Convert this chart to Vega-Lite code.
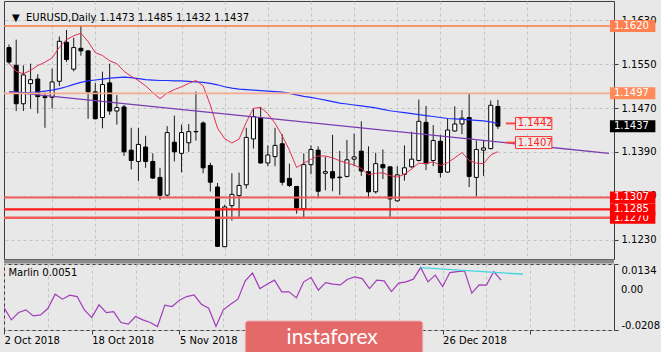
{
  "$schema": "https://vega.github.io/schema/vega-lite/v6.json",
  "background": "#e8e8e8",
  "padding": {"left": 3, "top": 0, "right": 0, "bottom": 0},
  "spacing": 5,
  "bounds": "flush",
  "config": {
    "view": {"stroke": "#3c3c3c", "strokeWidth": 1},
    "axis": {"labelFont": "DejaVu Sans", "labelFontSize": 10, "labelColor": "#000000", "gridColor": "#c4c4c4", "gridDash": [3, 3], "gridWidth": 1, "domain": false, "tickColor": "#3c3c3c"},
    "text": {"font": "DejaVu Sans"}
  },
  "datasets": {
    "candles": [
      {"i":0,"o":1.15804,"h":1.15861,"l":1.1551,"c":1.1554},
      {"i":1,"o":1.15481,"h":1.15949,"l":1.14646,"c":1.14779},
      {"i":2,"o":1.14779,"h":1.15481,"l":1.14646,"c":1.15305},
      {"i":3,"o":1.15147,"h":1.15511,"l":1.14691,"c":1.15218},
      {"i":4,"o":1.1523,"h":1.15318,"l":1.14603,"c":1.14909},
      {"i":5,"o":1.14909,"h":1.14984,"l":1.1434,"c":1.14891},
      {"i":6,"o":1.14896,"h":1.15423,"l":1.14691,"c":1.15177},
      {"i":7,"o":1.15189,"h":1.16007,"l":1.15102,"c":1.15919},
      {"i":8,"o":1.15902,"h":1.16125,"l":1.1554,"c":1.15586},
      {"i":9,"o":1.1541,"h":1.15984,"l":1.1537,"c":1.15804},
      {"i":10,"o":1.15791,"h":1.162,"l":1.15656,"c":1.15744},
      {"i":11,"o":1.15744,"h":1.15756,"l":1.14505,"c":1.14996},
      {"i":12,"o":1.14996,"h":1.1516,"l":1.14493,"c":1.14505},
      {"i":13,"o":1.14528,"h":1.15365,"l":1.1433,"c":1.1513},
      {"i":14,"o":1.1516,"h":1.15511,"l":1.14575,"c":1.14646},
      {"i":15,"o":1.14646,"h":1.14937,"l":1.144,"c":1.14709},
      {"i":16,"o":1.14721,"h":1.14756,"l":1.13826,"c":1.13902},
      {"i":17,"o":1.13932,"h":1.1434,"l":1.13581,"c":1.13744},
      {"i":18,"o":1.13726,"h":1.1434,"l":1.1337,"c":1.14037},
      {"i":19,"o":1.13989,"h":1.14195,"l":1.1361,"c":1.13726},
      {"i":20,"o":1.13726,"h":1.13874,"l":1.13405,"c":1.13423},
      {"i":21,"o":1.13435,"h":1.1361,"l":1.13025,"c":1.13107},
      {"i":22,"o":1.13112,"h":1.1437,"l":1.13084,"c":1.14253},
      {"i":23,"o":1.14077,"h":1.14563,"l":1.13726,"c":1.13902},
      {"i":24,"o":1.13874,"h":1.144,"l":1.13528,"c":1.14253},
      {"i":25,"o":1.14067,"h":1.1441,"l":1.13902,"c":1.1427},
      {"i":26,"o":1.14274,"h":1.15002,"l":1.14107,"c":1.14267},
      {"i":27,"o":1.14428,"h":1.14458,"l":1.1351,"c":1.1361},
      {"i":28,"o":1.13651,"h":1.13703,"l":1.13177,"c":1.13347},
      {"i":29,"o":1.1326,"h":1.13335,"l":1.12165,"c":1.12177},
      {"i":30,"o":1.1217,"h":1.12937,"l":1.12165,"c":1.12896},
      {"i":31,"o":1.12919,"h":1.1351,"l":1.12646,"c":1.13125},
      {"i":32,"o":1.13102,"h":1.13523,"l":1.12716,"c":1.13288},
      {"i":33,"o":1.133,"h":1.1434,"l":1.1323,"c":1.14165},
      {"i":34,"o":1.14137,"h":1.14691,"l":1.13961,"c":1.14546},
      {"i":35,"o":1.14528,"h":1.14721,"l":1.13686,"c":1.13698},
      {"i":36,"o":1.13698,"h":1.14019,"l":1.13639,"c":1.13844},
      {"i":37,"o":1.13814,"h":1.1434,"l":1.13639,"c":1.14019},
      {"i":38,"o":1.14049,"h":1.14225,"l":1.13288,"c":1.13347},
      {"i":39,"o":1.13418,"h":1.13686,"l":1.1326,"c":1.13288},
      {"i":40,"o":1.1327,"h":1.1327,"l":1.12774,"c":1.12879},
      {"i":41,"o":1.12861,"h":1.13874,"l":1.12674,"c":1.13668},
      {"i":42,"o":1.13668,"h":1.14019,"l":1.13493,"c":1.13944},
      {"i":43,"o":1.13932,"h":1.14002,"l":1.13054,"c":1.13182},
      {"i":44,"o":1.1351,"h":1.13814,"l":1.132,"c":1.1354},
      {"i":45,"o":1.1354,"h":1.14212,"l":1.13182,"c":1.13423},
      {"i":46,"o":1.1344,"h":1.13919,"l":1.13112,"c":1.1343},
      {"i":47,"o":1.13453,"h":1.14119,"l":1.13435,"c":1.13756},
      {"i":48,"o":1.13768,"h":1.14235,"l":1.13639,"c":1.13809},
      {"i":49,"o":1.13914,"h":1.14458,"l":1.13463,"c":1.13551},
      {"i":50,"o":1.1354,"h":1.14002,"l":1.13054,"c":1.13172},
      {"i":51,"o":1.13172,"h":1.13884,"l":1.13142,"c":1.13686},
      {"i":52,"o":1.13668,"h":1.13944,"l":1.13405,"c":1.1361},
      {"i":53,"o":1.13628,"h":1.13633,"l":1.12716,"c":1.13042},
      {"i":54,"o":1.13007,"h":1.13639,"l":1.12996,"c":1.13481},
      {"i":55,"o":1.13493,"h":1.14019,"l":1.13375,"c":1.1361},
      {"i":56,"o":1.13628,"h":1.1427,"l":1.1361,"c":1.13768},
      {"i":57,"o":1.13744,"h":1.14856,"l":1.13726,"c":1.14458},
      {"i":58,"o":1.1444,"h":1.14739,"l":1.13568,"c":1.13686},
      {"i":59,"o":1.13744,"h":1.14388,"l":1.13639,"c":1.14107},
      {"i":60,"o":1.14095,"h":1.14212,"l":1.13435,"c":1.13523},
      {"i":61,"o":1.13533,"h":1.14505,"l":1.13523,"c":1.143},
      {"i":62,"o":1.14282,"h":1.14733,"l":1.1427,"c":1.1441},
      {"i":63,"o":1.1441,"h":1.14663,"l":1.14225,"c":1.14516},
      {"i":64,"o":1.14528,"h":1.14967,"l":1.1326,"c":1.13453},
      {"i":65,"o":1.13435,"h":1.14107,"l":1.13084,"c":1.13944},
      {"i":66,"o":1.13932,"h":1.14119,"l":1.13463,"c":1.13972},
      {"i":67,"o":1.13961,"h":1.14839,"l":1.13944,"c":1.14751},
      {"i":68,"o":1.1473,"h":1.1485,"l":1.1432,"c":1.1437}
    ],
    "ma": [
      {"i":0,"b":1.14996,"r":1.15519},{"i":1,"b":1.14993,"r":1.1537},{"i":2,"b":1.14984,"r":1.15326},{"i":3,"b":1.14984,"r":1.15388},
      {"i":4,"b":1.14993,"r":1.15475},{"i":5,"b":1.15011,"r":1.15537},{"i":6,"b":1.15028,"r":1.15616},{"i":7,"b":1.15054,"r":1.15809},
      {"i":8,"b":1.15089,"r":1.15949},{"i":9,"b":1.15133,"r":1.16019},{"i":10,"b":1.15168,"r":1.16067},{"i":11,"b":1.15195,"r":1.15914},
      {"i":12,"b":1.15212,"r":1.15712},{"i":13,"b":1.1523,"r":1.1566},{"i":14,"b":1.15247,"r":1.15563},{"i":15,"b":1.15256,"r":1.15511},
      {"i":16,"b":1.15265,"r":1.1537},{"i":17,"b":1.15256,"r":1.15282},{"i":18,"b":1.15239,"r":1.15203},{"i":19,"b":1.15221,"r":1.15107},
      {"i":20,"b":1.15212,"r":1.14984},{"i":21,"b":1.15203,"r":1.1487},{"i":22,"b":1.15203,"r":1.14975},{"i":23,"b":1.15195,"r":1.15037},
      {"i":24,"b":1.15195,"r":1.15089},{"i":25,"b":1.15186,"r":1.15151},{"i":26,"b":1.15177,"r":1.15203},{"i":27,"b":1.15168,"r":1.15107},
      {"i":28,"b":1.15151,"r":1.14756},{"i":29,"b":1.15125,"r":1.14335},{"i":30,"b":1.15089,"r":1.14142},{"i":31,"b":1.15063,"r":1.14063},
      {"i":32,"b":1.15046,"r":1.14133},{"i":33,"b":1.15037,"r":1.1444},{"i":34,"b":1.15028,"r":1.14695},{"i":35,"b":1.15019,"r":1.14712},
      {"i":36,"b":1.15011,"r":1.14598},{"i":37,"b":1.15002,"r":1.14423},{"i":38,"b":1.14993,"r":1.14195},{"i":39,"b":1.14967,"r":1.13932},
      {"i":40,"b":1.1494,"r":1.13616},{"i":41,"b":1.14914,"r":1.13695},{"i":42,"b":1.14896,"r":1.13765},{"i":43,"b":1.1487,"r":1.13826},
      {"i":44,"b":1.14844,"r":1.13826},{"i":45,"b":1.14818,"r":1.13791},{"i":46,"b":1.14791,"r":1.13739},{"i":47,"b":1.14774,"r":1.13698},
      {"i":48,"b":1.14756,"r":1.1366},{"i":49,"b":1.14739,"r":1.13598},{"i":50,"b":1.14721,"r":1.13484},{"i":51,"b":1.14703,"r":1.1351},
      {"i":52,"b":1.14677,"r":1.13519},{"i":53,"b":1.14651,"r":1.13467},{"i":54,"b":1.14633,"r":1.1344},{"i":55,"b":1.14616,"r":1.13493},
      {"i":56,"b":1.14598,"r":1.13589},{"i":57,"b":1.14581,"r":1.13695},{"i":58,"b":1.14563,"r":1.13686},{"i":59,"b":1.14546,"r":1.13721},
      {"i":60,"b":1.14528,"r":1.13651},{"i":61,"b":1.1451,"r":1.13703},{"i":62,"b":1.14502,"r":1.13791},{"i":63,"b":1.14493,"r":1.13888},
      {"i":64,"b":1.14484,"r":1.13744},{"i":65,"b":1.14475,"r":1.13695},{"i":66,"b":1.14467,"r":1.13686},{"i":67,"b":1.14449,"r":1.13844},
      {"i":68,"b":1.14414,"r":1.13905}
    ],
    "marlin": [
      {"i":0,"v":-0.00917},{"i":1,"v":-0.01554},{"i":2,"v":-0.01176},{"i":3,"v":-0.01036},{"i":4,"v":-0.01347},{"i":5,"v":-0.01295},
      {"i":6,"v":-0.00969},{"i":7,"v":-0.00223},{"i":8,"v":-0.00482},{"i":9,"v":-0.00275},{"i":10,"v":-0.00347},{"i":11,"v":-0.01036},
      {"i":12,"v":-0.01435},{"i":13,"v":-0.00777},{"i":14,"v":-0.01176},{"i":15,"v":-0.01124},{"i":16,"v":-0.01694},{"i":17,"v":-0.01777},
      {"i":18,"v":-0.01383},{"i":19,"v":-0.01554},{"i":20,"v":-0.01694},{"i":21,"v":-0.01902},{"i":22,"v":-0.00793},{"i":23,"v":-0.00865},
      {"i":24,"v":-0.00534},{"i":25,"v":-0.00347},{"i":26,"v":-0.00259},{"i":27,"v":-0.00741},{"i":28,"v":-0.00948},{"i":29,"v":-0.01902},
      {"i":30,"v":-0.01036},{"i":31,"v":-0.00741},{"i":32,"v":-0.00482},{"i":33,"v":0.00466},{"i":34,"v":0.00865},{"i":35,"v":0.00067},
      {"i":36,"v":0.00295},{"i":37,"v":0.00503},{"i":38,"v":-0.00104},{"i":39,"v":-0.00104},{"i":40,"v":-0.00415},{"i":41,"v":0.00415},
      {"i":42,"v":0.00637},{"i":43,"v":-0.00016},{"i":44,"v":0.00378},{"i":45,"v":0.00295},{"i":46,"v":0.00259},{"i":47,"v":0.00554},
      {"i":48,"v":0.00674},{"i":49,"v":0.00585},{"i":50,"v":0.00067},{"i":51,"v":0.00503},{"i":52,"v":0.00466},{"i":53,"v":-0.00088},
      {"i":54,"v":0.00347},{"i":55,"v":0.00415},{"i":56,"v":0.00554},{"i":57,"v":0.01155},{"i":58,"v":0.00415},{"i":59,"v":0.00762},
      {"i":60,"v":0.00171},{"i":61,"v":0.00896},{"i":62,"v":0.00948},{"i":63,"v":0.00984},{"i":64,"v":-0.00171},{"i":65,"v":0.00259},
      {"i":66,"v":0.00244},{"i":67,"v":0.00948},{"i":68,"v":0.0051}
    ],
    "trend": [{"i":0,"p":1.14997},{"i":83.45,"p":1.13874}],
    "cyan": [{"i":57,"v":0.01155},{"i":71,"v":0.0081}],
    "levels": [
      {"p":1.162,"kind":"o1","label":"1.1620"},
      {"p":1.1497,"kind":"o2","label":"1.1497"},
      {"p":1.127,"kind":"r3","label":"1.1270"},
      {"p":1.1285,"kind":"r2","label":"1.1285"},
      {"p":1.1307,"kind":"r1","label":"1.1307"}
    ],
    "tl": [{"p":1.1442,"label":"1.1442"},{"p":1.1407,"label":"1.1407"}],
    "price": [{"p":1.1437,"label":"1.1437"}]
  },
  "vconcat": [
    {
      "width": 610,
      "height": 258,
      "layer": [
        {
          "data": {"name": "candles"},
          "mark": {"type": "rule", "color": "#1a1a1a", "strokeWidth": 1, "clip": true},
          "encoding": {
            "x": {"field": "i", "type": "quantitative", "title": null,
                  "scale": {"domain": [0, 83.45], "nice": false, "zero": false},
                  "axis": {"values": [6,12,18,24,30,36,42,48,54,60,66,72,78], "labels": false, "ticks": false, "domain": false, "grid": true}},
            "y": {"field": "l", "type": "quantitative", "title": null,
                  "scale": {"domain": [1.12037, 1.16563], "nice": false, "zero": false},
                  "axis": {"orient": "right", "values": [1.123, 1.131, 1.139, 1.147, 1.155, 1.163], "format": ".4f", "tickSize": 4, "labelPadding": 3, "labelOverlap": false, "grid": true}},
            "y2": {"field": "h"}
          }
        },
        {
          "data": {"name": "candles"},
          "mark": {"type": "bar", "width": 4, "orient": "vertical", "stroke": "#000000", "strokeWidth": 1, "clip": true},
          "encoding": {
            "x": {"field": "i", "type": "quantitative", "title": null},
            "y": {"field": "o", "type": "quantitative", "title": null},
            "y2": {"field": "c"},
            "fill": {"condition": {"test": "datum.c >= datum.o", "value": "#ffffff"}, "value": "#000000"}
          }
        },
        {
          "data": {"name": "ma"},
          "mark": {"type": "line", "color": "#1f30ff", "strokeWidth": 1.2, "clip": true},
          "encoding": {
            "x": {"field": "i", "type": "quantitative", "title": null},
            "y": {"field": "b", "type": "quantitative", "title": null}
          }
        },
        {
          "data": {"name": "ma"},
          "mark": {"type": "line", "color": "#e2304f", "strokeWidth": 1, "clip": true},
          "encoding": {
            "x": {"field": "i", "type": "quantitative", "title": null},
            "y": {"field": "r", "type": "quantitative", "title": null}
          }
        },
        {
          "data": {"name": "trend"},
          "mark": {"type": "line", "color": "#7a3cb0", "strokeWidth": 1.3, "clip": true},
          "encoding": {
            "x": {"field": "i", "type": "quantitative", "title": null},
            "y": {"field": "p", "type": "quantitative", "title": null}
          }
        },
        {
          "data": {"name": "levels"},
          "mark": {"type": "rule", "clip": true},
          "encoding": {
            "y": {"field": "p", "type": "quantitative", "title": null},
            "stroke": {"field": "kind", "type": "nominal", "legend": null,
                       "scale": {"domain": ["o1","o2","r1","r2","r3"], "range": ["#ff7a45","#f6aa90","#f25c5c","#ff1a1a","#f25c5c"]}},
            "strokeWidth": {"field": "kind", "type": "nominal", "legend": null,
                       "scale": {"domain": ["o1","o2","r1","r2","r3"], "range": [1.5, 2.5, 2, 1, 2]}}
          }
        },
        {
          "data": {"name": "tl"},
          "mark": {"type": "rule", "color": "#ff4848", "strokeWidth": 2, "clip": false},
          "encoding": {
            "x": {"datum": 69.1},
            "x2": {"datum": 70.45},
            "y": {"field": "p", "type": "quantitative", "title": null}
          }
        },
        {
          "data": {"name": "tl"},
          "mark": {"type": "bar", "height": 12, "orient": "horizontal", "fill": "#ececec", "stroke": "#ff3030", "strokeWidth": 1, "clip": false},
          "encoding": {
            "x": {"datum": 70.45},
            "x2": {"datum": 75.5},
            "y": {"field": "p", "type": "quantitative", "title": null}
          }
        },
        {
          "data": {"name": "tl"},
          "mark": {"type": "text", "align": "left", "baseline": "middle", "fontSize": 10, "color": "#ff2020", "clip": false},
          "encoding": {
            "x": {"datum": 70.75},
            "y": {"field": "p", "type": "quantitative", "title": null},
            "text": {"field": "label"}
          }
        },
        {
          "data": {"name": "levels"},
          "transform": [{"filter": "datum.kind == 'r3'"}],
          "mark": {"type": "bar", "height": 12, "orient": "horizontal", "clip": false},
          "encoding": {
            "x": {"datum": 83.58},
            "x2": {"datum": 89.9},
            "y": {"field": "p", "type": "quantitative", "title": null},
            "fill": {"field": "kind", "type": "nominal", "legend": null,
                     "scale": {"domain": ["o1","o2","r1","r2","r3"], "range": ["#ff8050","#ff8a5a","#ff0000","#ff0000","#ff0000"]}}
          }
        },
        {
          "data": {"name": "levels"},
          "transform": [{"filter": "datum.kind == 'r3'"}],
          "mark": {"type": "text", "align": "left", "baseline": "middle", "fontSize": 10, "color": "#ffffff", "clip": false},
          "encoding": {
            "x": {"datum": 84.13},
            "y": {"field": "p", "type": "quantitative", "title": null},
            "text": {"field": "label"}
          }
        },
        {
          "data": {"name": "levels"},
          "transform": [{"filter": "datum.kind != 'r3'"}],
          "mark": {"type": "bar", "height": 12, "orient": "horizontal", "clip": false},
          "encoding": {
            "x": {"datum": 83.58},
            "x2": {"datum": 89.9},
            "y": {"field": "p", "type": "quantitative", "title": null},
            "fill": {"field": "kind", "type": "nominal", "legend": null}
          }
        },
        {
          "data": {"name": "levels"},
          "transform": [{"filter": "datum.kind != 'r3'"}],
          "mark": {"type": "text", "align": "left", "baseline": "middle", "fontSize": 10, "color": "#ffffff", "clip": false},
          "encoding": {
            "x": {"datum": 84.13},
            "y": {"field": "p", "type": "quantitative", "title": null},
            "text": {"field": "label"}
          }
        },
        {
          "data": {"name": "price"},
          "mark": {"type": "bar", "height": 12, "orient": "horizontal", "fill": "#000000", "clip": false},
          "encoding": {
            "x": {"datum": 83.58},
            "x2": {"datum": 89.9},
            "y": {"field": "p", "type": "quantitative", "title": null}
          }
        },
        {
          "data": {"name": "price"},
          "mark": {"type": "text", "align": "left", "baseline": "middle", "fontSize": 10, "color": "#ffffff", "clip": false},
          "encoding": {
            "x": {"datum": 84.13},
            "y": {"field": "p", "type": "quantitative", "title": null},
            "text": {"field": "label"}
          }
        },
        {
          "data": {"values": [{"t": "▼\u00a0\u00a0EURUSD,Daily 1.1473 1.1485 1.1432 1.1437"}]},
          "mark": {"type": "text", "align": "left", "baseline": "middle", "fontSize": 10, "color": "#000000"},
          "encoding": {
            "x": {"datum": 0.41},
            "y": {"datum": 1.16353},
            "text": {"field": "t"}
          }
        }
      ]
    },
    {
      "width": 610,
      "height": 66,
      "layer": [
        {
          "data": {"name": "marlin"},
          "mark": {"type": "line", "color": "#a23cb8", "strokeWidth": 1.2, "clip": true},
          "encoding": {
            "x": {"field": "i", "type": "quantitative", "title": null,
                  "scale": {"domain": [0, 83.45], "nice": false, "zero": false},
                  "axis": {"values": [0,6,12,18,24,30,36,42,48,54,60,66,72,78],
                           "labelExpr": "datum.value == 0 ? '2 Oct 2018' : datum.value == 12 ? '18 Oct 2018' : datum.value == 24 ? '5 Nov 2018' : datum.value == 36 ? '21 Nov 2018' : datum.value == 48 ? '7 Dec 2018' : datum.value == 60 ? '26 Dec 2018' : ''",
                           "labelAlign": "left", "labelBaseline": "top", "labelPadding": 1, "labelFlush": false, "labelOverlap": false,
                           "tickSize": 4, "tickOpacity": {"condition": {"test": "datum.value % 12 == 0", "value": 1}, "value": 0},
                           "grid": true, "domain": false}},
            "y": {"field": "v", "type": "quantitative", "title": null,
                  "scale": {"domain": [-0.0208, 0.0134], "nice": false, "zero": false},
                  "axis": {"orient": "right", "values": [0.0134, 0.0, -0.0208],
                           "labelExpr": "datum.value > 0.001 ? '0.0134' : datum.value < -0.001 ? '-0.0208' : '0.00'",
                           "labelBaseline": "middle",
                           "labelOffset": {"condition": [{"test": "datum.value > 0.001", "value": 6}, {"test": "datum.value < -0.001", "value": -5}], "value": 0},
                           "tickSize": 4, "labelPadding": 3, "labelFlush": false, "labelOverlap": false, "grid": true}}
          }
        },
        {
          "data": {"name": "cyan"},
          "mark": {"type": "line", "color": "#45d6e0", "strokeWidth": 1.3, "clip": false},
          "encoding": {
            "x": {"field": "i", "type": "quantitative", "title": null},
            "y": {"field": "v", "type": "quantitative", "title": null}
          }
        },
        {
          "data": {"values": [{"t": "band"}]},
          "mark": {"type": "rect", "color": "#8c8c8c", "clip": false},
          "encoding": {
            "y": {"datum": 0.01573},
            "y2": {"datum": 0.01366}
          }
        },
        {
          "data": {"values": [{"v": 0, "t": "0.00"}]},
          "mark": {"type": "text", "align": "left", "baseline": "middle", "fontSize": 10, "color": "#000000", "clip": false},
          "encoding": {
            "x": {"datum": 84.4},
            "y": {"field": "v", "type": "quantitative", "title": null},
            "text": {"field": "t"}
          }
        },
        {
          "data": {"values": [{"t": "Marlin 0.0051"}]},
          "mark": {"type": "text", "align": "left", "baseline": "middle", "fontSize": 10, "color": "#000000"},
          "encoding": {
            "x": {"datum": 0.6},
            "y": {"datum": 0.0088},
            "text": {"field": "t"}
          }
        },
        {
          "data": {"values": [{"t": "instaforex"}]},
          "mark": {"type": "rect", "fill": "#e46a6a", "stroke": "#f4b8b8", "strokeWidth": 1, "cornerRadius": 3, "clip": false},
          "encoding": {
            "x": {"datum": 33.0},
            "x2": {"datum": 57.3},
            "y": {"datum": -0.0161},
            "y2": {"datum": -0.0335}
          }
        },
        {
          "data": {"values": [{"t": "instaforex"}]},
          "mark": {"type": "text", "font": "Lato", "fontSize": 21, "color": "#ffffff", "align": "center", "baseline": "middle", "clip": false},
          "encoding": {
            "x": {"datum": 44.9},
            "y": {"datum": -0.0247},
            "text": {"field": "t"}
          }
        }
      ]
    }
  ]
}
